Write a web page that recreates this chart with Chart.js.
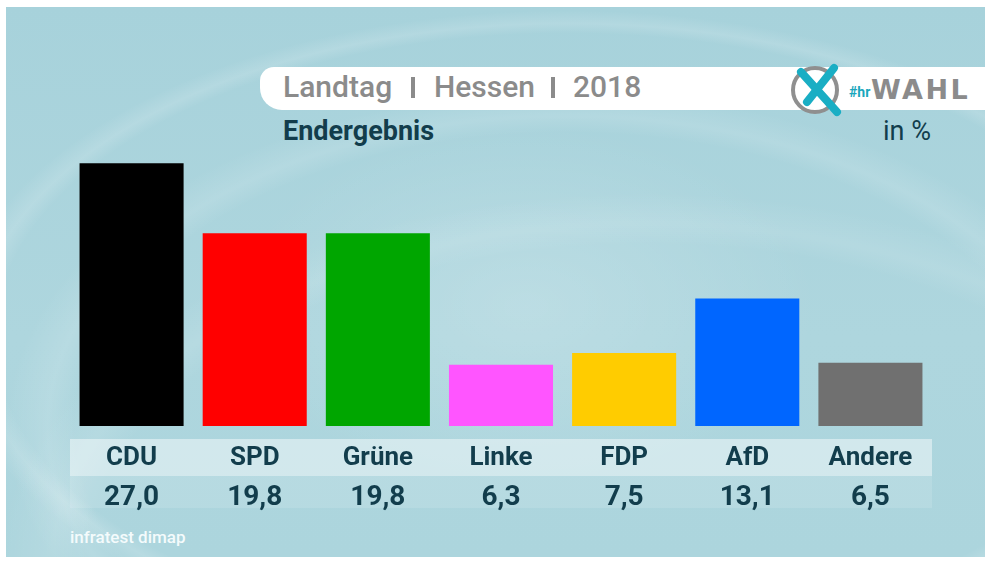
<!DOCTYPE html>
<html>
<head>
<meta charset="utf-8">
<script src="https://cdn.jsdelivr.net/npm/chart.js@4.4.0/dist/chart.umd.min.js"></script>
<style>
    html, body { margin: 0; padding: 0; background: #fff; }
    #page { position: relative; width: 989px; height: 563px; overflow: hidden; }
    #stage {
        position: absolute; left: 6px; top: 7px; width: 979px; height: 550px;
        background:
            radial-gradient(ellipse 420px 260px at 520px 300px, rgba(255,255,255,0.18), rgba(255,255,255,0) 70%),
            radial-gradient(ellipse 900px 520px at 640px 560px, rgba(255,255,255,0) 62%, rgba(255,255,255,0.1) 66%, rgba(255,255,255,0) 72%),
            radial-gradient(ellipse 700px 420px at 560px 420px, rgba(255,255,255,0) 70%, rgba(255,255,255,0.12) 74%, rgba(255,255,255,0) 80%),
            radial-gradient(ellipse 620px 330px at 560px 330px, rgba(255,255,255,0) 92%, rgba(255,255,255,0.14) 95%, rgba(255,255,255,0) 99%),
            linear-gradient(180deg, #a7d2db 0%, #aed6de 60%, #acd5dd 100%);
    }
    #chart { position: absolute; left: 0; top: 0; }
    .txt { position: absolute; white-space: nowrap; font-family: Roboto, sans-serif; }
    .head { top: 72px; font-size: 30px; line-height: 30px; color: #8b8b8b; font-weight: 500; }
    .sep { top: 77px; width: 4px; height: 21px; background: #8b8b8b; position: absolute; }
    #titlebar {
        position: absolute; left: 260px; top: 67px; width: 725px; height: 43px;
        background: #fff; border-radius: 14px 0 0 22px;
    }
</style>
</head>
<body>
<div id="page">
    <div id="stage"></div>
    <div id="titlebar"></div>
    <div class="txt head" style="left:283px;">Landtag</div>
    <div class="sep" style="left:411px;"></div>
    <div class="txt head" style="left:434px;">Hessen</div>
    <div class="sep" style="left:551px;"></div>
    <div class="txt head" style="left:573px;">2018</div>
    <svg style="position:absolute; left:785px; top:62px;" width="62" height="56">
        <circle cx="30" cy="28" r="22" fill="none" stroke="#8f8f8f" stroke-width="4"/>
        <line x1="16" y1="10" x2="52" y2="50" stroke="#1aaec4" stroke-width="8" stroke-linecap="round"/>
        <line x1="49" y1="6" x2="22" y2="40" stroke="#1aaec4" stroke-width="8" stroke-linecap="round"/>
    </svg>
    <div class="txt" style="left:849px; top:85px; font-size:14px; line-height:14px; font-weight:bold; color:#1aa7bd;">#hr</div>
    <div class="txt" style="left:871px; top:76px; font-size:27px; line-height:27px; font-weight:bold; color:#8b8b8b; font-family:'DejaVu Sans', sans-serif; letter-spacing:2.5px;">WAHL</div>
    <div class="txt" style="left:283px; top:118px; font-size:27px; line-height:27px; font-weight:bold; color:#123d4c;">Endergebnis</div>
    <div class="txt" style="right:58px; top:118px; font-size:27px; line-height:27px; color:#123d4c;">in %</div>
    <div class="txt" style="left:70px; top:529px; font-size:17px; line-height:17px; font-weight:500; color:#f4fbfc;">infratest dimap</div>
    <canvas id="chart" width="989" height="563"></canvas>
</div>
<script>
const parties = ['CDU', 'SPD', 'Grüne', 'Linke', 'FDP', 'AfD', 'Andere'];
const results = [27.0, 19.8, 19.8, 6.3, 7.5, 13.1, 6.5];
const resultLabels = ['27,0', '19,8', '19,8', '6,3', '7,5', '13,1', '6,5'];
const partyColors = ['#000000', '#ff0000', '#00a600', '#ff55ff', '#ffcc00', '#0066ff', '#707070'];

// light bands behind the party names and the numbers
const bandPlugin = {
    id: 'bands',
    beforeDraw(chart) {
        const ctx = chart.ctx;
        const x = chart.scales.x;
        const base = chart.chartArea.bottom;
        ctx.save();
        ctx.fillStyle = 'rgba(255,255,255,0.45)';
        ctx.fillRect(x.left, base + 13, x.right - x.left, 37);
        ctx.fillStyle = 'rgba(255,255,255,0.12)';
        ctx.fillRect(x.left, base + 50, x.right - x.left, 32);
        ctx.restore();
    }
};

const ctx = document.getElementById('chart').getContext('2d');
new Chart(ctx, {
    type: 'bar',
    data: {
        labels: parties,
        datasets: [{
            data: results,
            backgroundColor: partyColors,
            borderWidth: 0,
            barPercentage: 0.845,
            categoryPercentage: 1
        }]
    },
    options: {
        responsive: false,
        animation: false,
        layout: {
            padding: { left: 70, right: 57, top: 134, bottom: 43 }
        },
        plugins: {
            legend: { display: false },
            tooltip: { enabled: false }
        },
        scales: {
            x: {
                position: 'bottom',
                offset: true,
                grid: { display: false, drawTicks: false },
                border: { display: false },
                afterFit: (scale) => { scale.height = 50; },
                ticks: {
                    color: '#123d4c',
                    padding: 19,
                    font: { family: 'Roboto', size: 26, weight: 'bold', lineHeight: '26px' }
                }
            },
            x2: {
                type: 'category',
                position: 'bottom',
                labels: resultLabels,
                offset: true,
                grid: { display: false, drawTicks: false },
                border: { display: false },
                ticks: {
                    color: '#123d4c',
                    padding: 3,
                    font: { family: 'Roboto', size: 28, weight: 'bold', lineHeight: '38px' }
                }
            },
            y: {
                display: false,
                min: 0,
                max: 30
            }
        }
    },
    plugins: [bandPlugin]
});
</script>
</body>
</html>
